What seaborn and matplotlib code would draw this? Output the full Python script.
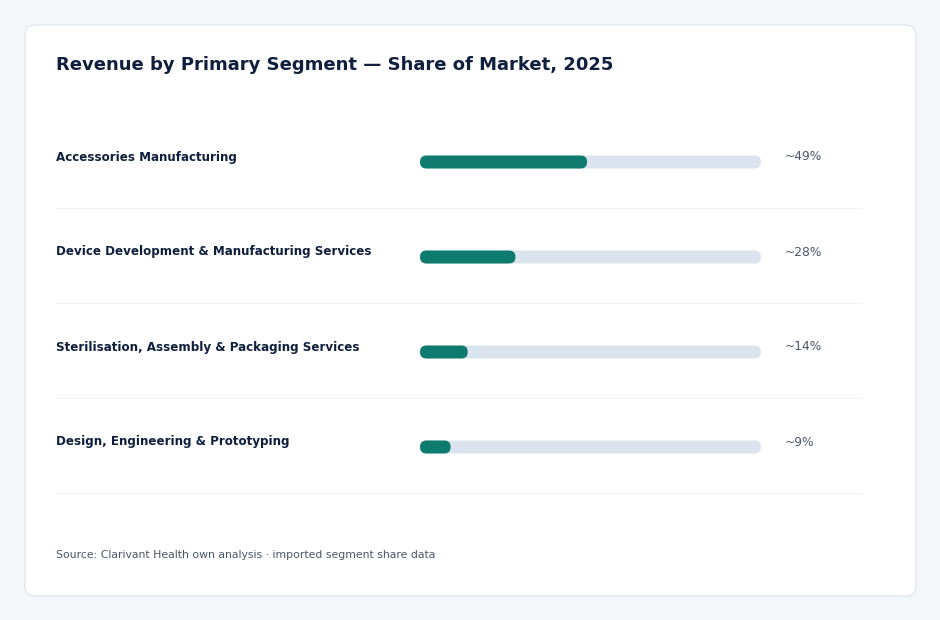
import matplotlib
matplotlib.use("Agg")
import matplotlib.pyplot as plt
import matplotlib.transforms as mtransforms
from matplotlib.patches import FancyBboxPatch
import seaborn as sns
import pandas as pd

segments = [
    "Accessories Manufacturing",
    "Device Development & Manufacturing Services",
    "Sterilisation, Assembly & Packaging Services",
    "Design, Engineering & Prototyping",
]
shares = [49, 28, 14, 9]
value_labels = ["~49%", "~28%", "~14%", "~9%"]
title = "Revenue by Primary Segment \u2014 Share of Market, 2025"
source = "Source: Clarivant Health own analysis \u00b7 imported segment share data"

BG = "#f4f7fa"
CARD_EDGE = "#dde3ea"
TRACK = "#dbe4ee"
FILL = "#0e7b6e"
INK = "#0f1f3d"
MUTED = "#4a5568"
RULE = "#eef1f5"

sns.set_theme(style="white")
plt.rcParams["font.family"] = ["DejaVu Sans"]

W, H = 940, 620
fig = plt.figure(figsize=(W / 100, H / 100), dpi=100)
fig.patch.set_facecolor(BG)

# card (behind the axes)
card = FancyBboxPatch((25 / 100, 24 / 100), 891 / 100, 571 / 100,
                      boxstyle="round,pad=0,rounding_size=0.1",
                      transform=fig.dpi_scale_trans,
                      facecolor="white", edgecolor=CARD_EDGE, linewidth=0.8,
                      zorder=-5)
fig.patches.append(card)

# axes for bars: x 420..761 px, rows 95px apart centred at 162..447
row_h = 95
top = 162 - row_h / 2
ax = fig.add_axes([420 / W, 1 - (top + 4 * row_h) / H, 341 / W, 4 * row_h / H])
ax.set_facecolor("none")
ax.set_zorder(2)

df = pd.DataFrame({"segment": segments, "share": shares, "track": [100] * len(segments)})
bar_w = 13 / row_h
sns.barplot(data=df, x="track", y="segment", orient="h", color=TRACK, width=bar_w,
            saturation=1, ax=ax)
sns.barplot(data=df, x="share", y="segment", orient="h", color=FILL, width=bar_w,
            saturation=1, ax=ax)
ax.set_xlim(0, 100)
ax.set_ylim(len(segments) - 0.5, -0.5)
ax.axis("off")

# rounded bars: swap rectangles for rounded boxes
x_per_px = 100 / 341
y_per_px = 1 / row_h
radius = 6.5 * x_per_px
for k, p in enumerate(list(ax.patches)):
    x, y = p.get_x(), p.get_y()
    w, h = p.get_width(), p.get_height()
    r = min(radius, w / 2)
    rb = FancyBboxPatch((x, y), w, h,
                        boxstyle=f"round,pad=0,rounding_size={r}",
                        mutation_aspect=y_per_px / x_per_px,
                        facecolor=p.get_facecolor(), edgecolor="none",
                        zorder=2 + k * 0.01)
    p.remove()
    ax.add_patch(rb)

# labels, values, separators
lab_tf = mtransforms.blended_transform_factory(fig.transFigure, ax.transData)
for i, (seg, val) in enumerate(zip(segments, value_labels)):
    ax.text(56 / W, i - 5 / row_h, seg, transform=lab_tf, ha="left", va="center",
            fontsize=8.6, fontweight="bold", color=INK)
    ax.text(785 / W, i - 5 / row_h, val, transform=lab_tf, ha="left", va="center",
            fontsize=8.8, color=MUTED)
    ax.plot([56 / W, 861 / W], [i + 46 / row_h] * 2, transform=lab_tf,
            color=RULE, linewidth=0.8, clip_on=False)

fig.text(56 / W, 1 - 65 / H, title, ha="left", va="center",
         fontsize=13, fontweight="bold", color=INK)
fig.text(56 / W, 1 - 555 / H, source, ha="left", va="center",
         fontsize=7.85, color=MUTED)

fig.savefig("out.png", dpi=100, facecolor=BG)
